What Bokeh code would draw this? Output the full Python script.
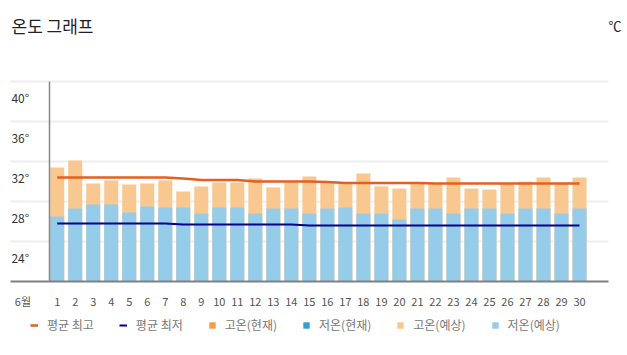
from bokeh.plotting import figure
from bokeh.models import (Range1d, FixedTicker, LinearAxis, Grid, Legend,
                          LegendItem, Label, ColumnDataSource)
from bokeh.embed import file_html
from bokeh.resources import INLINE

# ---------------- data ----------------
days = list(range(1, 31))
high_forecast = [31.4, 32.1, 29.8, 30.1, 29.7, 29.8, 30.1, 29.0, 29.5, 29.9,
                 29.9, 30.3, 29.4, 29.9, 30.5, 29.9, 29.9, 30.8, 29.5, 29.3,
                 29.9, 29.8, 30.4, 29.3, 29.2, 29.8, 30.0, 30.4, 29.8, 30.4]
low_forecast = [26.5, 27.3, 27.7, 27.7, 26.9, 27.5, 27.4, 27.4, 26.8, 27.4,
                27.4, 26.8, 27.3, 27.3, 26.8, 27.3, 27.4, 26.8, 26.8, 26.2,
                27.3, 27.3, 26.8, 27.3, 27.3, 26.8, 27.3, 27.3, 26.8, 27.3]
avg_high = [30.4, 30.4, 30.4, 30.4, 30.4, 30.4, 30.4, 30.3, 30.15, 30.15,
            30.15, 30.0, 30.0, 30.0, 30.0, 29.95, 29.85, 29.85, 29.85, 29.85,
            29.85, 29.8, 29.8, 29.8, 29.8, 29.8, 29.8, 29.8, 29.8, 29.8]
avg_low = [25.8, 25.8, 25.8, 25.8, 25.8, 25.8, 25.8, 25.7, 25.7, 25.7,
           25.7, 25.7, 25.7, 25.7, 25.6, 25.6, 25.6, 25.6, 25.6, 25.6,
           25.6, 25.6, 25.6, 25.6, 25.6, 25.6, 25.6, 25.6, 25.6, 25.6]
# no measured ("current") values are shown in this chart
current_days = [1]
high_current = [float("nan")]
low_current = [float("nan")]
y_ticks = [24, 28, 32, 36, 40]
month_label = "6월"
title_text = "온도 그래프"
unit_text = "℃"
legend_labels = ["평균 최고", "평균 최저", "고온(현재)", "저온(현재)", "고온(예상)", "저온(예상)"]

# ---------------- layout (the frame fills the whole canvas) ----------------
W, H = 627, 355
PLOT_L, PLOT_R, PLOT_T, PLOT_B = 10, 608, 81, 281
PPD = (579 - 56.7) / 29.0          # pixels per day
Y0, Y1 = 20, 40
PPT = (PLOT_B - PLOT_T) / (Y1 - Y0)
XC0 = 1 - 56.7 / PPD               # x value at canvas left edge
XC1 = XC0 + W / PPD
YC0 = Y0 - (H - PLOT_B) / PPT      # y value at canvas bottom
YC1 = Y1 + PLOT_T / PPT            # y value at canvas top
LAB_SHIFT = 1.6                    # y labels sit below their grid line

CJK = "Noto Sans CJK KR"


def px_x(px):
    return XC0 + px / PPD


def px_y(py):
    return YC1 - py / PPT


p = figure(width=W, height=H, x_range=Range1d(XC0, XC1), y_range=Range1d(YC0, YC1),
           min_border=0, x_axis_location=None, y_axis_location=None,
           output_backend="svg", toolbar_location=None)
p.outline_line_color = None
p.background_fill_color = "white"
p.border_fill_color = "white"
for g in p.grid:
    g.visible = False

# horizontal grid lines
grid = Grid(dimension=1, ticker=FixedTicker(ticks=y_ticks),
            grid_line_color="#eeeeee", grid_line_width=2)
if "cross_bounds" in Grid.properties():
    grid.cross_bounds = (px_x(PLOT_L), px_x(PLOT_R))
    p.add_layout(grid, "center")
else:
    p.segment(x0=px_x(PLOT_L), x1=px_x(PLOT_R), y0=y_ticks, y1=y_ticks,
              line_color="#eeeeee", line_width=2)

# x axis (days), drawn at the base value
month_pos = -0.9
xax = LinearAxis(fixed_location=Y0, ticker=FixedTicker(ticks=[month_pos] + days),
                 major_label_overrides={month_pos: month_label},
                 bounds=(px_x(PLOT_L), px_x(PLOT_R)))
xax.axis_line_color = "#808080"
xax.axis_line_width = 2
xax.major_tick_line_color = None
xax.minor_tick_line_color = None
xax.major_label_standoff = 5
xax.major_label_text_font = CJK
xax.major_label_text_font_size = "11px"
xax.major_label_text_color = "#555555"
p.add_layout(xax, "below")

# y axis
p.extra_y_ranges = {"lab": Range1d(YC0 + LAB_SHIFT, YC1 + LAB_SHIFT)}
yax = LinearAxis(y_range_name="lab", ticker=FixedTicker(ticks=y_ticks),
                 fixed_location=px_x(48.7),
                 bounds=(Y0 + LAB_SHIFT, Y1 + LAB_SHIFT),
                 major_label_overrides={t: f"{t}°" for t in y_ticks})
yax.axis_line_color = "#888888"
yax.axis_line_width = 1.5
yax.major_tick_line_color = None
yax.minor_tick_line_color = None
yax.major_label_standoff = 14
yax.major_label_text_font = CJK
yax.major_label_text_font_size = "12px"
yax.major_label_text_color = "#333333"
p.add_layout(yax, "left")

src = ColumnDataSource(dict(day=days, hi=high_forecast, lo=low_forecast,
                            ahi=avg_high, alo=avg_low))
cur = ColumnDataSource(dict(day=current_days, hi=high_current, lo=low_current))

r_hi_f = p.vbar(x="day", width=0.78, bottom=Y0, top="hi", source=src,
                fill_color="#F9C891", line_color=None)
r_lo_f = p.vbar(x="day", width=0.78, bottom=Y0, top="lo", source=src,
                fill_color="#95CCE9", line_color=None)
r_hi_c = p.vbar(x="day", width=0.78, bottom=Y0, top="hi", source=cur,
                fill_color="#F79B3F", line_color=None)
r_lo_c = p.vbar(x="day", width=0.78, bottom=Y0, top="lo", source=cur,
                fill_color="#379CD2", line_color=None)
r_ahi = p.line(x="day", y="ahi", source=src, line_color="#E3601D", line_width=2.5)
r_alo = p.line(x="day", y="alo", source=src, line_color="#00008B", line_width=2)

legend = Legend(items=[
    LegendItem(label=legend_labels[0], renderers=[r_ahi]),
    LegendItem(label=legend_labels[1], renderers=[r_alo]),
    LegendItem(label=legend_labels[2], renderers=[r_hi_c]),
    LegendItem(label=legend_labels[3], renderers=[r_lo_c]),
    LegendItem(label=legend_labels[4], renderers=[r_hi_f]),
    LegendItem(label=legend_labels[5], renderers=[r_lo_f]),
], orientation="horizontal", location=(30, 22))
legend.padding = 0
legend.margin = 0
legend.border_line_color = None
legend.background_fill_alpha = 0
legend.glyph_width = 8
legend.glyph_height = 8
legend.label_standoff = 9
legend.spacing = 25
legend.label_height = 14
legend.label_text_font = CJK
legend.label_text_font_size = "12px"
legend.label_text_color = "#777777"
p.add_layout(legend, "center")

p.add_layout(Label(x=px_x(11), y=px_y(24.5), text=title_text, text_font=CJK,
                   text_font_size="17px", text_color="#222222",
                   text_baseline="middle", text_align="left"))
p.add_layout(Label(x=px_x(621), y=px_y(24.5), text=unit_text, text_font=CJK,
                   text_font_size="13px", text_color="#222222",
                   text_baseline="middle", text_align="right"))

open("out.html", "w").write(file_html(p, INLINE))
